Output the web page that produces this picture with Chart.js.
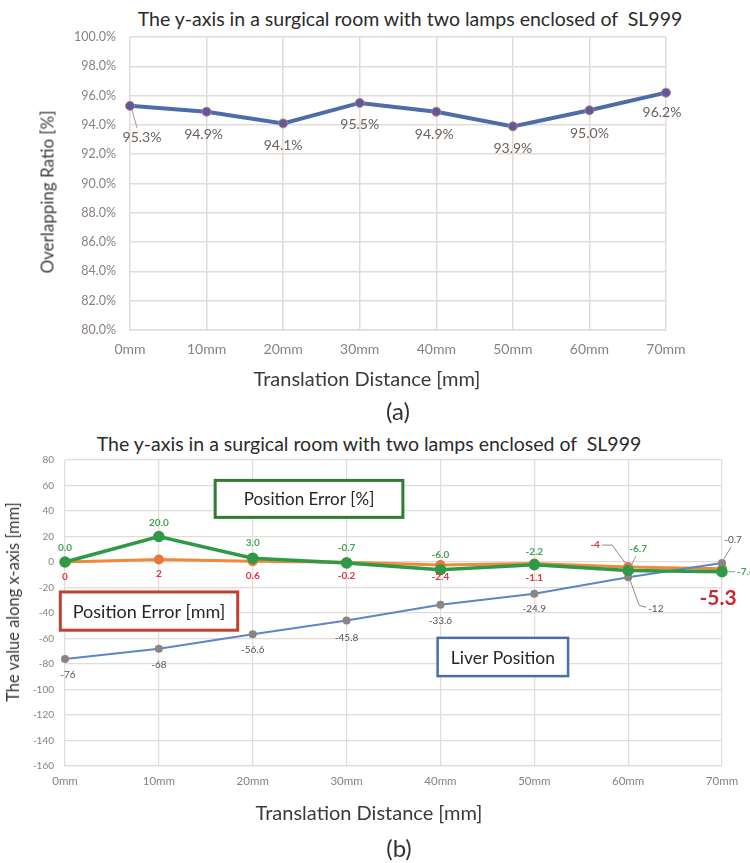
<!DOCTYPE html>
<html>
<head>
<meta charset="utf-8">
<script src="https://cdn.jsdelivr.net/npm/chart.js@4.4.1/dist/chart.umd.min.js"></script>
<style>
  html, body { margin: 0; padding: 0; background: #ffffff; }
  body { width: 750px; height: 863px; position: relative; overflow: hidden; font-family: Lato, "Open Sans", sans-serif; }
  canvas { position: absolute; left: 0; }
  .txt { position: absolute; white-space: nowrap; color: #2b2b2b; transform: translate(-50%, -50%); }
  .title { font-size: 19.5px; }
  .tag { font-size: 24px; color: #333; }
  .axis { color: #3a3a3a; font-size: 20px; }
  .axis.v { transform: translate(-50%, -50%) rotate(-90deg); }
</style>
</head>
<body>
<div class="txt title" style="left:410px; top:18px;">The y-axis in a surgical room with two lamps enclosed of&nbsp; SL999</div>
<canvas id="chartA" width="750" height="395" style="top:0px; width:750px; height:395px;"></canvas>
<div class="txt axis" style="left:367px; top:378px;">Translation Distance [mm]</div>
<div class="txt axis v" style="left:47px; top:192px; font-size:17px;">Overlapping Ratio [%]</div>
<div class="txt tag" style="left:398px; top:410px;">(a)</div>

<div class="txt title" style="left:369px; top:443px;">The y-axis in a surgical room with two lamps enclosed of&nbsp; SL999</div>
<canvas id="chartB" width="750" height="407" style="top:423px; width:750px; height:407px;"></canvas>
<div class="txt axis" style="left:369px; top:812px;">Translation Distance [mm]</div>
<div class="txt axis v" style="left:13px; top:602px; font-size:16.5px;">The value along x-axis [mm]</div>
<div class="txt tag" style="left:399px; top:847px;">(b)</div>

<script>
// ---- shared categories ----
const distances = ['0mm', '10mm', '20mm', '30mm', '40mm', '50mm', '60mm', '70mm'];

// ---- (a) overlapping ratio ----
const overlapRatio = [95.3, 94.9, 94.1, 95.5, 94.9, 93.9, 95.0, 96.2];
const ratioTicks = { min: 80, max: 100, step: 2 };

// ---- (b) position along the x-axis ----
const errorPercent = [0.0, 20.0, 3.0, -0.7, -6.0, -2.2, -6.7, -7.6];
const errorMm = [0, 2, 0.6, -0.2, -2.4, -1.1, -4, -5.3];
const liverPosition = [-76, -68, -56.6, -45.8, -33.6, -24.9, -12, -0.7];
const valueTicks = { min: -160, max: 80, step: 10 };

const FONT = 'Lato, "Open Sans", sans-serif';
const GRID = '#e3dbd7';
const TICK = '#8a827d';

// Draws value labels next to points, with optional leader lines.
const valueLabels = {
  id: 'valueLabels',
  afterDatasetsDraw(chart, args, opts) {
    const ctx = chart.ctx;
    (opts.sets || []).forEach(set => {
      const meta = chart.getDatasetMeta(set.dataset);
      const values = chart.data.datasets[set.dataset].data;
      meta.data.forEach((pt, i) => {
        const o = (set.offsets && set.offsets[i]) || [0, 0];
        const x = pt.x + o[0], y = pt.y + o[1];
        const lead = set.leaders && set.leaders[i];
        if (lead) {
          ctx.save();
          ctx.strokeStyle = set.leaderColor || '#9a9a9a';
          ctx.lineWidth = 1;
          ctx.beginPath();
          lead.forEach((p, k) => {
            const px = pt.x + p[0], py = pt.y + p[1];
            if (k === 0) ctx.moveTo(px, py); else ctx.lineTo(px, py);
          });
          ctx.stroke();
          ctx.restore();
        }
        const st = (set.special && set.special[i]) || {};
        ctx.save();
        ctx.fillStyle = st.color || set.color;
        ctx.font = (st.font || set.font);
        ctx.textAlign = st.align || (set.aligns && set.aligns[i]) || 'center';
        ctx.textBaseline = 'middle';
        ctx.fillText(set.format(values[i]), x, y);
        ctx.restore();
      });
    });
  }
};

// Draws boxed captions positioned in data coordinates.
const boxedCaptions = {
  id: 'boxedCaptions',
  afterDatasetsDraw(chart, args, opts) {
    const ctx = chart.ctx;
    const xs = chart.scales.x, ys = chart.scales.y;
    (opts.boxes || []).forEach(b => {
      const x0 = xs.getPixelForValue(b.x[0]), x1 = xs.getPixelForValue(b.x[1]);
      const y0 = ys.getPixelForValue(b.y[0]), y1 = ys.getPixelForValue(b.y[1]);
      ctx.save();
      ctx.fillStyle = '#ffffff';
      ctx.fillRect(x0, y0, x1 - x0, y1 - y0);
      ctx.strokeStyle = b.border;
      ctx.lineWidth = b.width;
      ctx.strokeRect(x0, y0, x1 - x0, y1 - y0);
      ctx.fillStyle = '#262626';
      ctx.font = b.size + 'px ' + FONT;
      ctx.textAlign = 'center';
      ctx.textBaseline = 'middle';
      ctx.fillText(b.text, (x0 + x1) / 2, (y0 + y1) / 2 + 1);
      ctx.restore();
    });
  }
};

// ---------------- chart (a) ----------------
new Chart(document.getElementById('chartA'), {
  type: 'line',
  data: {
    labels: distances,
    datasets: [{
      data: overlapRatio,
      borderColor: '#4d6caa',
      borderWidth: 4,
      pointRadius: 4.5,
      pointBackgroundColor: '#5d5a98',
      pointBorderColor: '#c67a88',
      pointBorderWidth: 1,
      tension: 0
    }]
  },
  options: {
    responsive: false,
    animation: false,
    layout: { padding: { top: 37, right: 84, left: 0, bottom: 0 } },
    plugins: {
      legend: { display: false },
      tooltip: { enabled: false },
      valueLabels: {
        sets: [{
          dataset: 0,
          color: '#6a625d',
          font: '14px ' + FONT,
          format: v => v.toFixed(1) + '%',
          offsets: [[12, 32], [-3, 23], [0, 22], [0, 22], [-2, 23], [0, 22], [0, 23], [-4, 20]],
          leaders: [[[2, 4], [7, 22]]],
          leaderColor: '#a09a96'
        }]
      }
    },
    scales: {
      x: {
        type: 'category',
        offset: false,
        grid: { color: GRID, drawTicks: false, lineWidth: 1.5 },
        border: { color: GRID, width: 1.5 },
        ticks: { color: TICK, font: { family: FONT, size: 14 }, padding: 11 },
        afterFit: s => { s.height = 65; }
      },
      y: {
        min: ratioTicks.min,
        max: ratioTicks.max,
        grid: { color: GRID, drawTicks: false, lineWidth: 1.5 },
        border: { display: false },
        ticks: { stepSize: ratioTicks.step, color: TICK, font: { family: FONT, size: 12.5 }, padding: 14,
                 callback: v => v.toFixed(1) + '%' },
        afterFit: s => { s.width = 130; }
      }
    }
  },
  plugins: [valueLabels]
});

// ---------------- chart (b) ----------------
new Chart(document.getElementById('chartB'), {
  type: 'line',
  data: {
    labels: distances,
    datasets: [
      {
        label: 'Position Error [%]',
        data: errorPercent,
        borderColor: '#2f9a45',
        borderWidth: 3.5,
        pointRadius: 4,
        pointBackgroundColor: '#2f9a45',
        pointBorderColor: '#2f9a45',
        tension: 0
      },
      {
        label: 'Liver Position',
        data: liverPosition,
        borderColor: '#5b87c6',
        borderWidth: 2,
        pointRadius: 3,
        pointBackgroundColor: '#8b8584',
        pointBorderColor: '#8b8584',
        tension: 0
      },
      {
        label: 'Position Error [mm]',
        data: errorMm,
        borderColor: '#ee8a3c',
        borderWidth: 3,
        pointRadius: 3.5,
        pointBackgroundColor: '#e8773d',
        pointBorderColor: '#e8773d',
        tension: 0
      }
    ]
  },
  options: {
    responsive: false,
    animation: false,
    layout: { padding: { top: 37, right: 28, left: 0, bottom: 0 } },
    plugins: {
      legend: { display: false },
      tooltip: { enabled: false },
      valueLabels: {
        sets: [
          {
            dataset: 0,
            color: '#3fa458',
            font: 'bold 10px ' + FONT,
            format: v => v.toFixed(1),
            offsets: [[0, -14], [0, -14], [0, -15], [0, -15], [0, -15], [0, -13], [10, -22], [15, 0]],
            aligns: ['center', 'center', 'center', 'center', 'center', 'center', 'center', 'left'],
            leaders: [null, null, null, null, null, null, [[2, -3], [8, -15]], [[6, 0], [13, 0]]],
            leaderColor: '#9a9a9a'
          },
          {
            dataset: 1,
            color: '#555555',
            font: '10px ' + FONT,
            format: v => String(v),
            offsets: [[3, 16], [0, 16], [0, 16], [0, 17], [0, 16], [0, 15], [20, 31], [11, -23]],
            aligns: ['center', 'center', 'center', 'center', 'center', 'center', 'left', 'center'],
            leaders: [null, null, null, null, null, null, [[2, 3], [11, 28], [18, 30]], [[2, -4], [9, -16]]],
            leaderColor: '#8a8a8a'
          },
          {
            dataset: 2,
            color: '#e0353d',
            font: 'bold 10px ' + FONT,
            format: v => String(v),
            offsets: [[0, 15], [0, 14], [0, 15], [0, 14], [0, 12], [0, 14], [-33, -22], [-4, 29]],
            leaders: [null, null, null, null, null, null, [[-26, -22], [-16, -22], [-2, -3]], null],
            leaderColor: '#8a8a8a',
            special: { 7: { font: 'bold 21px ' + FONT, color: '#c8282e' } }
          }
        ]
      },
      boxedCaptions: {
        boxes: [
          { text: 'Position Error [%]', size: 17, x: [1.6, 3.6], y: [64, 35], border: '#2e7d32', width: 3 },
          { text: 'Position Error [mm]', size: 18, x: [-0.05, 1.84], y: [-23.5, -53.5], border: '#c0412f', width: 3 },
          { text: 'Liver Position', size: 17.5, x: [3.97, 5.36], y: [-59.5, -89.5], border: '#4a6fa5', width: 2.5 }
        ]
      }
    },
    scales: {
      x: {
        type: 'category',
        offset: false,
        grid: { color: GRID, drawTicks: false, lineWidth: 1.2 },
        border: { color: GRID, width: 1.2 },
        ticks: { color: TICK, font: { family: FONT, size: 11.5 }, padding: 8 },
        afterFit: s => { s.height = 64; }
      },
      y: {
        min: valueTicks.min,
        max: valueTicks.max,
        grid: { color: GRID, drawTicks: false, lineWidth: 1.2 },
        border: { display: false },
        ticks: { stepSize: valueTicks.step, color: TICK, font: { family: FONT, size: 10 }, padding: 11 },
        afterFit: s => { s.width = 65; }
      }
    }
  },
  plugins: [valueLabels, boxedCaptions]
});
</script>
</body>
</html>
